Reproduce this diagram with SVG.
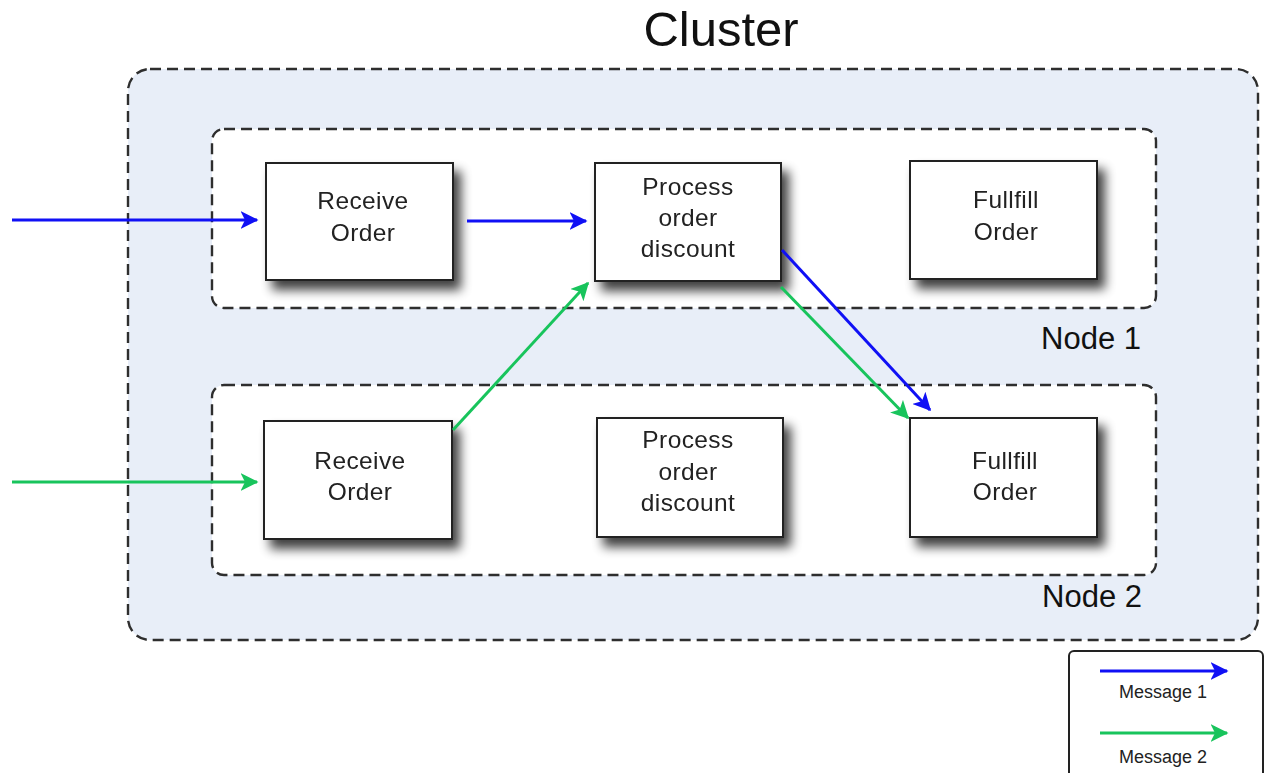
<svg xmlns="http://www.w3.org/2000/svg" width="1266" height="773" viewBox="0 0 1266 773">
  <defs>
    <style>
      .dash { stroke: #2e2e2e; stroke-width: 2.4; stroke-dasharray: 11 6; }
      .box { fill: #fff; stroke: #222; stroke-width: 2; }
      .lbl { font-family: "Liberation Sans", Arial, sans-serif; font-size: 24.5px; letter-spacing: 0.4px; fill: #222; text-anchor: middle; }
      .big { font-family: "Liberation Sans", Arial, sans-serif; fill: #111; text-anchor: middle; }
      .m1 { stroke: #1010f5; stroke-width: 3; fill: none; }
      .m2 { stroke: #18c45c; stroke-width: 3; fill: none; }
      .leg { font-family: "Liberation Sans", Arial, sans-serif; font-size: 18px; fill: #222; text-anchor: middle; }
    </style>
    <filter id="shadow" x="-20%" y="-20%" width="150%" height="160%">
      <feGaussianBlur in="SourceAlpha" stdDeviation="5.5"/>
      <feOffset dx="7" dy="9" result="b"/>
      <feComponentTransfer><feFuncA type="linear" slope="0.75"/></feComponentTransfer>
      <feMerge><feMergeNode/><feMergeNode in="SourceGraphic"/></feMerge>
    </filter>
    <marker id="ab" viewBox="0 0 12 12" refX="11" refY="6" markerWidth="6" markerHeight="6" markerUnits="strokeWidth" orient="auto">
      <path d="M0,0 L12,6 L0,12 L3,6 Z" fill="#1010f5"/>
    </marker>
    <marker id="ag" viewBox="0 0 12 12" refX="11" refY="6" markerWidth="6" markerHeight="6" markerUnits="strokeWidth" orient="auto">
      <path d="M0,0 L12,6 L0,12 L3,6 Z" fill="#18c45c"/>
    </marker>
  </defs>

  <rect width="1266" height="773" fill="#fff"/>

  <!-- cluster -->
  <g id="cluster">
    <rect x="128" y="69" width="1130" height="571" rx="22" fill="#e8eef8" class="dash"/>
    <text x="721" y="46" class="big" font-size="49">Cluster</text>
  </g>

  <!-- machine groups -->
  <g id="node1">
    <rect x="212" y="129" width="944" height="179" rx="12" fill="#fff" class="dash"/>
    <text x="1091" y="349" class="big" font-size="31">Node 1</text>
  </g>
  <g id="node2">
    <rect x="212" y="385" width="944" height="190" rx="12" fill="#fff" class="dash"/>
    <text x="1092" y="607" class="big" font-size="31">Node 2</text>
  </g>

  <!-- services, node 1 -->
  <g id="receive1" filter="url(#shadow)">
    <rect x="266" y="163" width="187" height="117" class="box"/>
    <text class="lbl" x="363" y="209">Receive</text>
    <text class="lbl" x="363" y="241">Order</text>
  </g>
  <g id="process1" filter="url(#shadow)">
    <rect x="595" y="163" width="186" height="118" class="box"/>
    <text class="lbl" x="688" y="195">Process</text>
    <text class="lbl" x="688" y="226">order</text>
    <text class="lbl" x="688" y="257">discount</text>
  </g>
  <g id="fulfill1" filter="url(#shadow)">
    <rect x="910" y="161" width="187" height="118" class="box"/>
    <text class="lbl" x="1006" y="208">Fullfill</text>
    <text class="lbl" x="1006" y="240">Order</text>
  </g>

  <!-- services, node 2 -->
  <g id="receive2" filter="url(#shadow)">
    <rect x="264" y="421" width="188" height="118" class="box"/>
    <text class="lbl" x="360" y="469">Receive</text>
    <text class="lbl" x="360" y="500">Order</text>
  </g>
  <g id="process2" filter="url(#shadow)">
    <rect x="597" y="418" width="186" height="119" class="box"/>
    <text class="lbl" x="688" y="448">Process</text>
    <text class="lbl" x="688" y="480">order</text>
    <text class="lbl" x="688" y="511">discount</text>
  </g>
  <g id="fulfill2" filter="url(#shadow)">
    <rect x="910" y="418" width="187" height="119" class="box"/>
    <text class="lbl" x="1005" y="469">Fullfill</text>
    <text class="lbl" x="1005" y="500">Order</text>
  </g>

  <!-- message flows -->
  <g id="connectors">
    <line class="m1" x1="12" y1="220" x2="257" y2="220" marker-end="url(#ab)"/>
    <line class="m1" x1="467" y1="221" x2="586" y2="221" marker-end="url(#ab)"/>
    <line class="m1" x1="782" y1="250" x2="930" y2="410" marker-end="url(#ab)"/>
    <line class="m2" x1="12" y1="482" x2="257" y2="482" marker-end="url(#ag)"/>
    <line class="m2" x1="453" y1="430" x2="588" y2="283" marker-end="url(#ag)"/>
    <line class="m2" x1="781" y1="287" x2="908" y2="418" marker-end="url(#ag)"/>
  </g>

  <!-- legend -->
  <g id="legend">
    <rect x="1069" y="651" width="194" height="130" rx="5" fill="#fff" stroke="#222" stroke-width="2"/>
    <line class="m1" x1="1100" y1="671" x2="1227" y2="671" marker-end="url(#ab)"/>
    <text class="leg" x="1163" y="698">Message 1</text>
    <line class="m2" x1="1100" y1="733" x2="1227" y2="733" marker-end="url(#ag)"/>
    <text class="leg" x="1163" y="763">Message 2</text>
  </g>
</svg>
